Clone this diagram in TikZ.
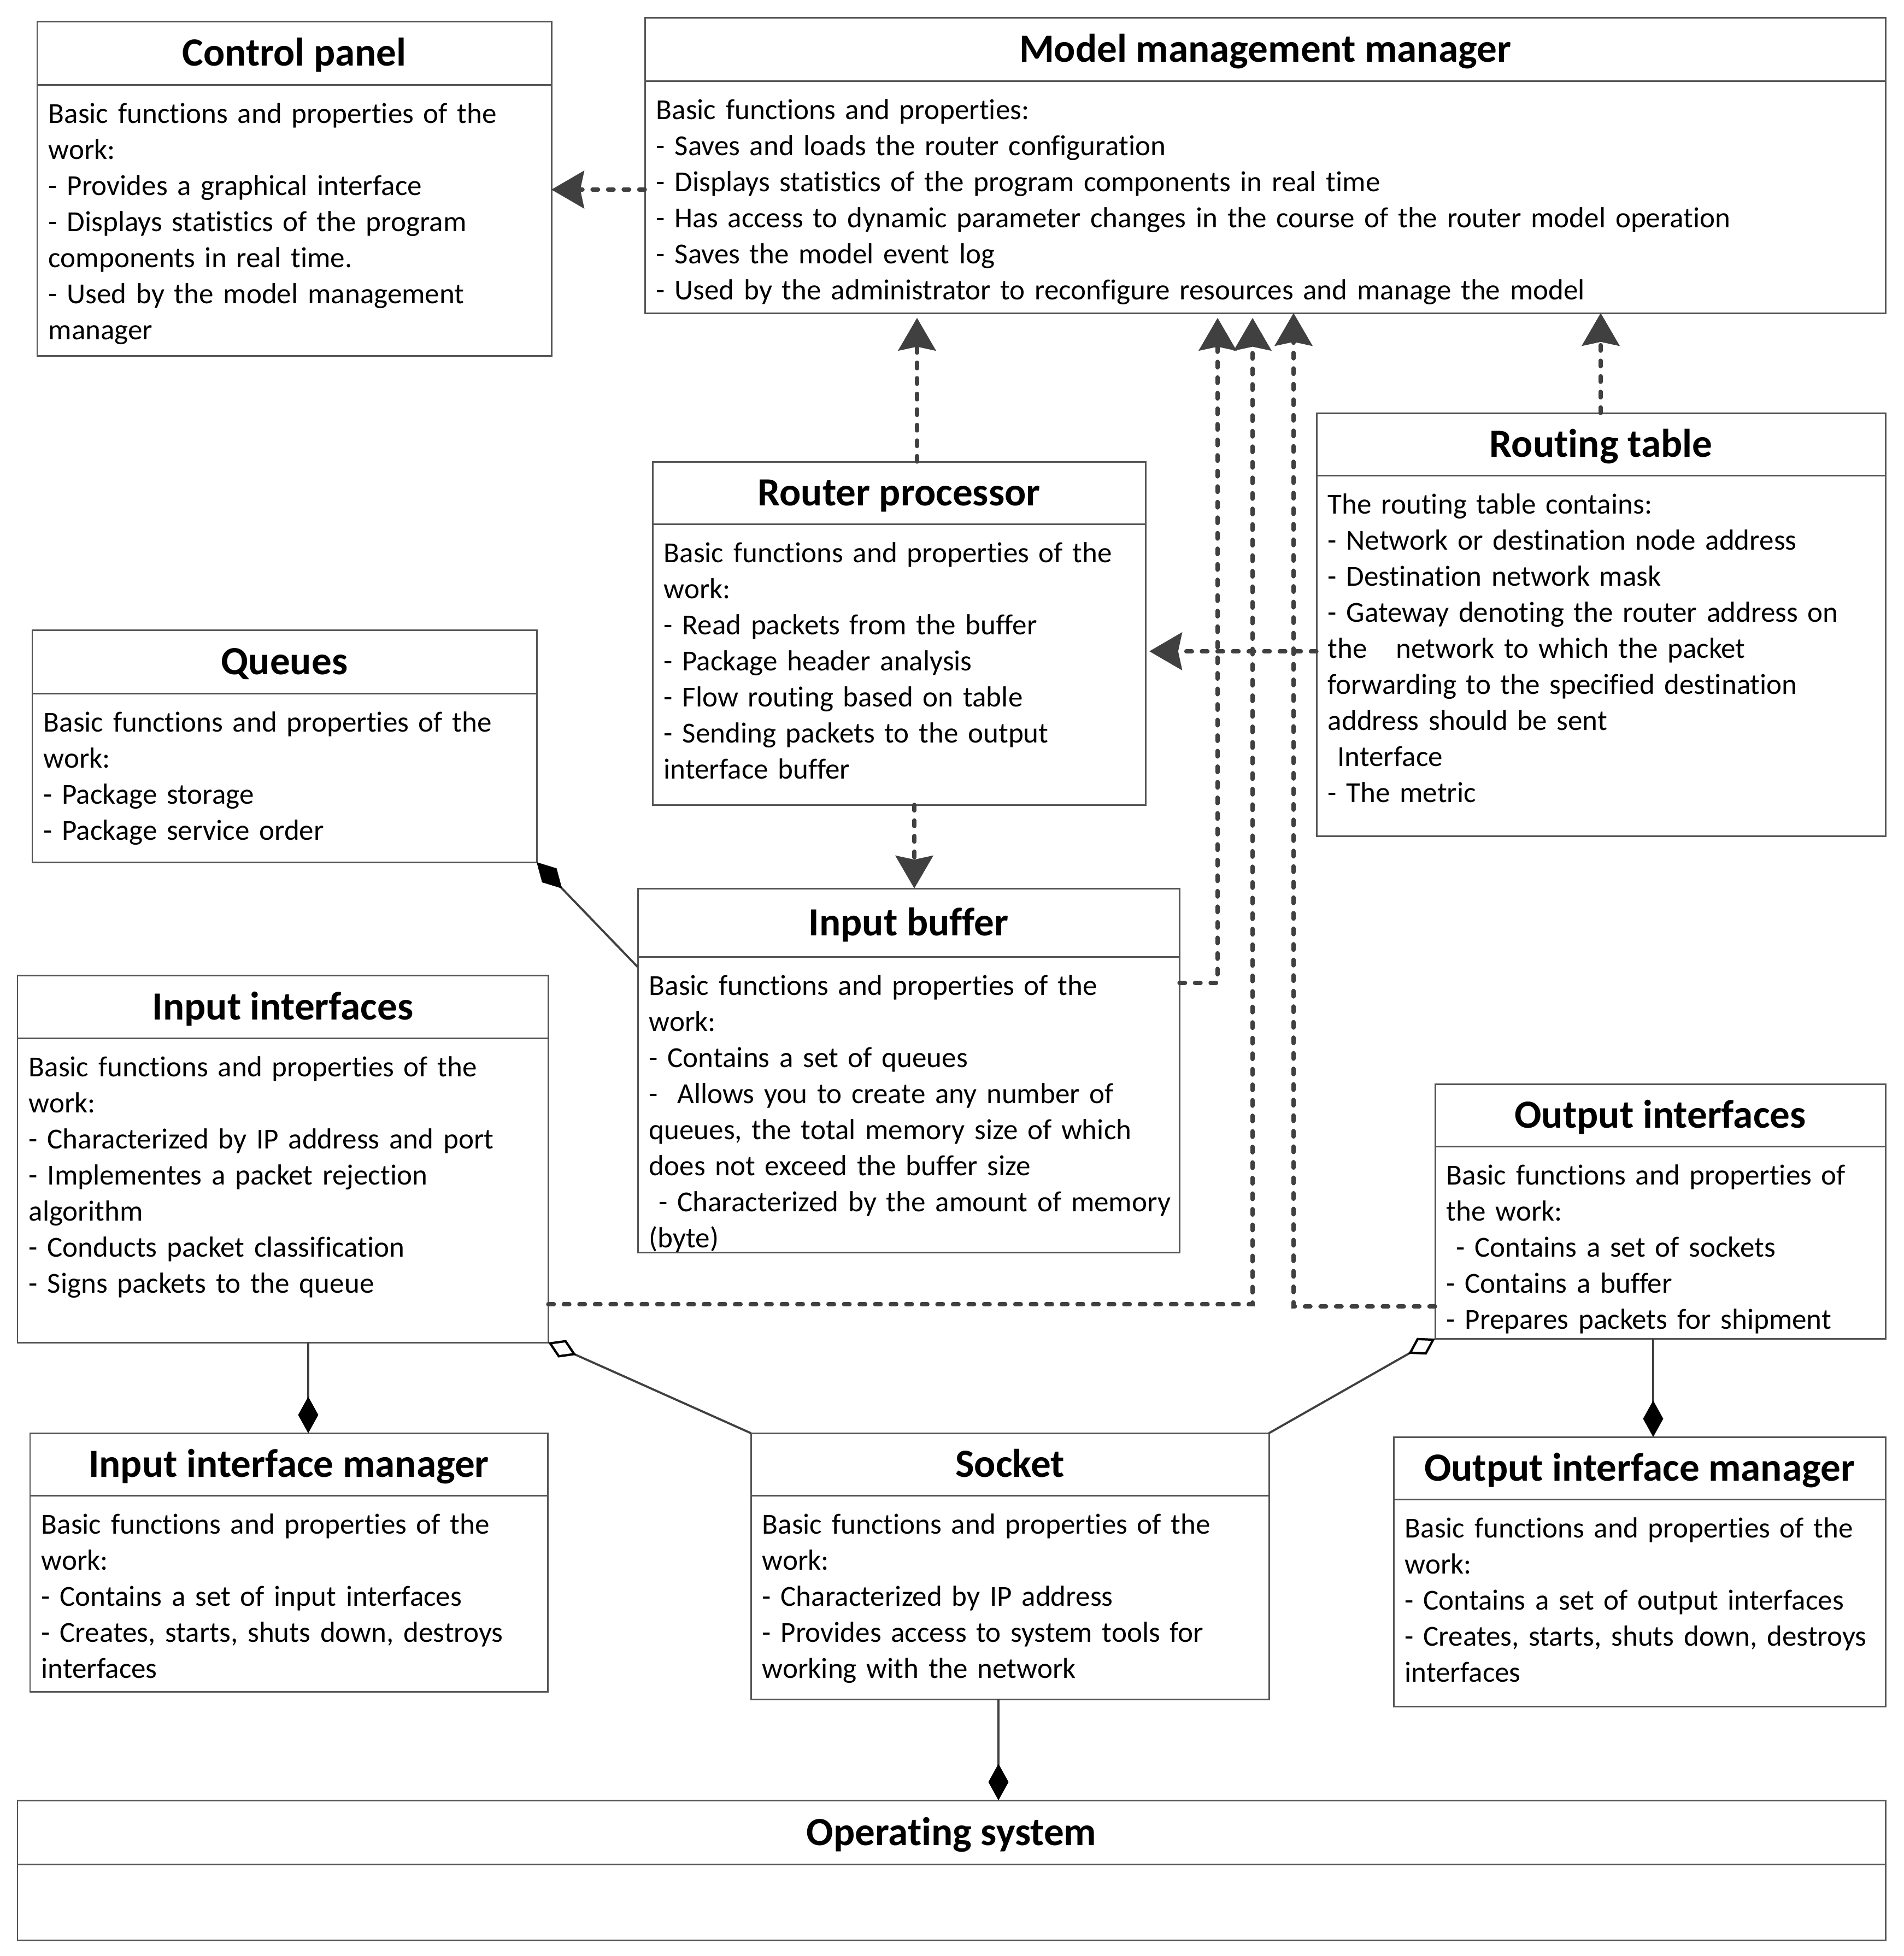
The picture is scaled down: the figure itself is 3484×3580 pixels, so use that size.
\documentclass[tikz,border=0pt]{standalone}
\usepackage{fontspec}
\setmainfont[Ligatures=NoCommon]{Carlito}
\usetikzlibrary{arrows.meta,fit}
\definecolor{boxgray}{HTML}{555555}
\definecolor{conngray}{HTML}{404040}
\tikzset{
  umlframe/.style={draw=boxgray, line width=0.85pt, inner sep=0pt, outer sep=0pt},
  umlline/.style={draw=boxgray, line width=0.85pt},
  umltitle/.style={font=\bfseries\fontsize{20.8pt}{25pt}\selectfont, inner sep=0pt, text height=13.4pt, text depth=0pt},
  umlbody/.style={font=\fontsize{15.1pt}{18.8pt}\selectfont, align=left, inner sep=0pt},
  dep/.style={draw=conngray, line width=2.1pt, line cap=round, dash pattern=on 3pt off 5.1pt,
    -{Stealth[length=17pt, width=19.5pt, inset=2pt]}},
  comp/.style={draw=conngray, line width=1.1pt,
    -{Diamond[length=19pt, width=10.5pt, color=black, fill=black]}},
  aggr/.style={draw=conngray, line width=1.1pt,
    -{Diamond[open, length=16pt, width=10pt, color=black, line width=1.2pt]}},
}
\newcommand{\umlbox}[8]{%
  \node[umlframe, fit={(#2,#3) (#4,#5)}] (#1) {};
  \draw[umlline] (#1.west |- 0,#6) -- (#1.east |- 0,#6);
  \node[umltitle] (#1-title) at ({(#2+#4)/2},{(#3+#6)/2}) {#7};
  \pgfmathsetlengthmacro{\umlw}{(#4-#2-10)*0.01cm}%
  \node[umlbody, text width=\umlw, anchor=base west] (#1-body) at ({#2+20},{#6+70}) {#8};
}
\begin{document}
\begin{tikzpicture}[x=0.01cm, y=-0.01cm]
\useasboundingbox[fill=white] (0,0) rectangle (3484,3580);

\umlbox{cp}{68}{39}{1009}{651}{155}{Control panel}{%
Basic functions and properties of the\\
work:\\
- Provides a graphical interface\\
- Displays statistics of the program\\
components in real time.\\
- Used by the model management\\
manager}

\umlbox{mmm}{1180}{32}{3450}{573}{148}{Model management manager}{%
Basic functions and properties:\\
- Saves and loads the router configuration\\
- Displays statistics of the program components in real time\\
- Has access to dynamic parameter changes in the course of the router model operation\\
- Saves the model event log\\
- Used by the administrator to reconfigure resources and manage the model}

\umlbox{rt}{2409}{756}{3450}{1530}{870}{Routing table}{%
The routing table contains:\\
- Network or destination node address\\
- Destination network mask\\
- Gateway denoting the router address on\\
the\ \ \ network to which the packet\\
forwarding to the specified destination\\
address should be sent\\
\ Interface\\
- The metric}

\umlbox{rp}{1194}{845}{2096}{1473}{959}{Router processor}{%
Basic functions and properties of the\\
work:\\
- Read packets from the buffer\\
- Package header analysis\\
- Flow routing based on table\\
- Sending packets to the output\\
interface buffer}

\umlbox{queues}{59}{1153}{982}{1578}{1269}{Queues}{%
Basic functions and properties of the\\
work:\\
- Package storage\\
- Package service order}

\umlbox{ib}{1167}{1626}{2158}{2292}{1751}{Input buffer}{%
Basic functions and properties of the\\
work:\\
- Contains a set of queues\\
-\ \ Allows you to create any number of\\
queues, the total memory size of which\\
does not exceed the buffer size\\
\ - Characterized by the amount of memory\\
(byte)}

\umlbox{ii}{32}{1785}{1003}{2457}{1900}{Input interfaces}{%
Basic functions and properties of the\\
work:\\
- Characterized by IP address and port\\
- Implementes a packet rejection\\
algorithm\\
- Conducts packet classification\\
- Signs packets to the queue}

\umlbox{oi}{2626}{1984}{3450}{2450}{2098}{Output interfaces}{%
Basic functions and properties of\\
the work:\\
\ - Contains a set of sockets\\
- Contains a buffer\\
- Prepares packets for shipment}

\umlbox{iim}{55}{2623}{1002}{3096}{2737}{Input interface manager}{%
Basic functions and properties of the\\
work:\\
- Contains a set of input interfaces\\
- Creates, starts, shuts down, destroys\\
interfaces}

\umlbox{socket}{1374}{2623}{2322}{3110}{2737}{Socket}{%
Basic functions and properties of the\\
work:\\
- Characterized by IP address\\
- Provides access to system tools for\\
working with the network}

\umlbox{oim}{2550}{2630}{3450}{3123}{2744}{Output interface manager}{%
Basic functions and properties of the\\
work:\\
- Contains a set of output interfaces\\
- Creates, starts, shuts down, destroys\\
interfaces}

\umlbox{os}{32}{3295}{3450}{3551}{3412}{Operating system}{}

% dependencies
\draw[dep] (mmm.west |- 0,347) -- (cp.east |- 0,347);
\draw[dep, shorten >=2.5pt] (rp.north -| 1678,0) -- (mmm.south -| 1678,0);
\draw[dep] (rt.north -| 2929,0) -- (mmm.south -| 2929,0);
\draw[dep, shorten >=2pt] (rt.west |- 0,1192) -- (rp.east |- 0,1192);
\draw[dep] (rp.south -| 1673,0) -- (ib.north -| 1673,0);
\draw[dep, shorten >=2.5pt] (ib.east |- 0,1799) -| (mmm.south -| 2228,0);
\draw[dep, shorten >=2.5pt] (ii.east |- 0,2387) -| (mmm.south -| 2292,0);
\draw[dep] (oi.west |- 0,2391) -| (mmm.south -| 2367,0);

% compositions
\draw[comp] (ib.west |- 0,1770) -- (queues.south east);
\draw[comp] (ii.south -| 564,0) -- (iim.north -| 564,0);
\draw[comp] (oi.south -| 3025,0) -- (oim.north -| 3025,0);
\draw[comp] (socket.south -| 1827,0) -- (os.north -| 1827,0);

% aggregations
\draw[aggr] (socket.north west) -- (ii.south east);
\draw[aggr] (socket.north east) -- (oi.south west);
\end{tikzpicture}
\end{document}
